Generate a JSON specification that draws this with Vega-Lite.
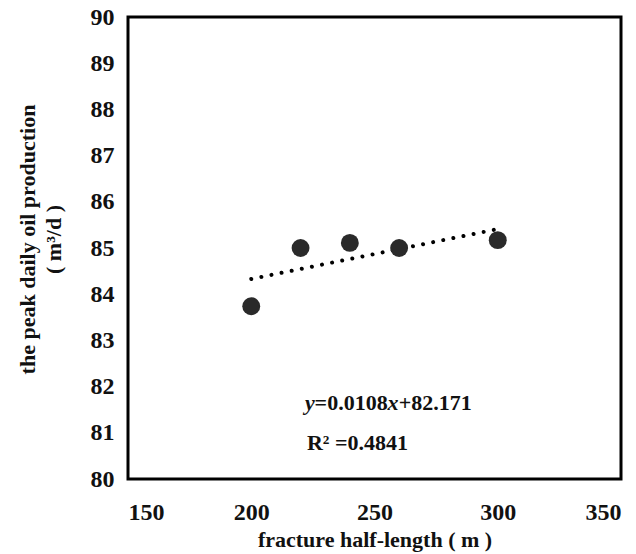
{
  "$schema": "https://vega.github.io/schema/vega-lite/v6.json",
  "width": 493,
  "height": 462,
  "autosize": {"type": "none"},
  "padding": {"left": 128, "top": 17, "right": 15, "bottom": 75},
  "background": "white",
  "config": {
    "view": {"stroke": "black", "strokeWidth": 3},
    "font": "Liberation Serif",
    "axis": {
      "grid": false,
      "domain": false,
      "ticks": false,
      "labelFont": "Liberation Serif",
      "labelFontWeight": "bold",
      "labelFontSize": 24,
      "labelColor": "#111",
      "titleFont": "Liberation Serif",
      "titleFontWeight": "bold",
      "titleFontSize": 22,
      "titleColor": "#111"
    }
  },
  "datasets": {
    "points": [
      {"length": 200, "oil": 83.74},
      {"length": 220, "oil": 85.0},
      {"length": 240, "oil": 85.11},
      {"length": 260, "oil": 85.0},
      {"length": 300, "oil": 85.17}
    ],
    "trend": [
      {"length": 200, "oil": 84.33},
      {"length": 300, "oil": 85.41}
    ],
    "italic": [
      {"length": 221.8, "oil": 81.65, "label": "y"},
      {"length": 255.3, "oil": 81.65, "label": "x"}
    ],
    "bold": [
      {"length": 225.7, "oil": 81.65, "label": "=0.0108"},
      {"length": 259.8, "oil": 81.65, "label": "+82.171"},
      {"length": 222.6, "oil": 80.78, "label": "R² =0.4841"}
    ]
  },
  "layer": [
    {
      "data": {"name": "trend"},
      "mark": {"type": "line", "color": "black", "strokeWidth": 4, "strokeCap": "round", "strokeDash": [0.01, 10.3]},
      "encoding": {
        "x": {
          "field": "length", "type": "quantitative",
          "scale": {"domain": [150, 350], "nice": false, "zero": false},
          "axis": {"values": [150, 200, 250, 300, 350], "labelPadding": 21, "title": "fracture half-length  ( m )", "titlePadding": 5}
        },
        "y": {
          "field": "oil", "type": "quantitative",
          "scale": {"domain": [80, 90], "nice": false, "zero": false},
          "axis": {"values": [80, 81, 82, 83, 84, 85, 86, 87, 88, 89, 90], "labelPadding": 14, "title": ["the peak daily oil production", "( m³/d )"], "titleX": -89, "titleY": 222, "titleLineHeight": 26}
        }
      }
    },
    {
      "data": {"name": "points"},
      "mark": {"type": "circle", "size": 320, "color": "#2a2a2a", "opacity": 1},
      "encoding": {
        "x": {"field": "length", "type": "quantitative"},
        "y": {"field": "oil", "type": "quantitative"}
      }
    },
    {
      "data": {"name": "italic"},
      "mark": {"type": "text", "align": "left", "baseline": "middle", "font": "Liberation Serif", "fontStyle": "italic", "fontWeight": "bold", "fontSize": 22, "color": "#111"},
      "encoding": {
        "x": {"field": "length", "type": "quantitative"},
        "y": {"field": "oil", "type": "quantitative"},
        "text": {"field": "label"}
      }
    },
    {
      "data": {"name": "bold"},
      "mark": {"type": "text", "align": "left", "baseline": "middle", "font": "Liberation Serif", "fontWeight": "bold", "fontSize": 22, "color": "#111"},
      "encoding": {
        "x": {"field": "length", "type": "quantitative"},
        "y": {"field": "oil", "type": "quantitative"},
        "text": {"field": "label"}
      }
    }
  ]
}
